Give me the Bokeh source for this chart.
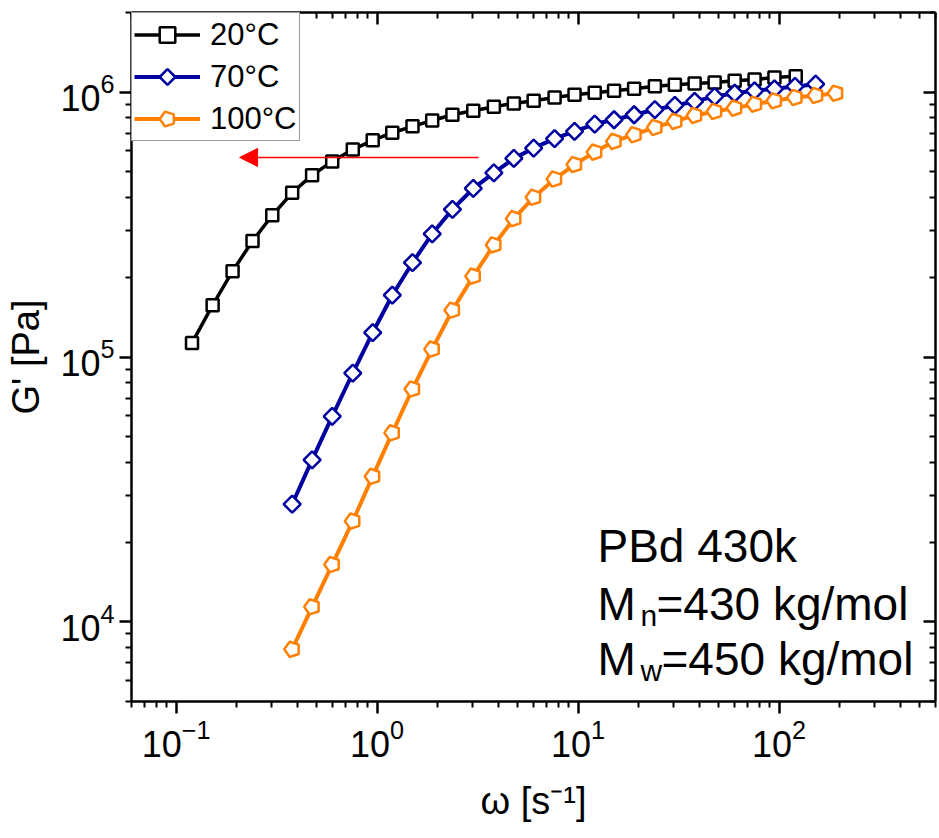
import math
from bokeh.plotting import figure
from bokeh.models import (LogAxis, FixedTicker, Legend, LegendItem, Arrow,
                          NormalHead, Label, Range1d, ColumnDataSource,
                          CustomJSTickFormatter)
from bokeh.embed import file_html
from bokeh.resources import INLINE

# ---- data ----
omega_20 = [0.120, 0.152, 0.191, 0.240, 0.301, 0.378, 0.475, 0.598, 0.757, 0.951,
            1.19, 1.50, 1.88, 2.37, 3.01, 3.81, 4.79, 6.01, 7.64, 9.60,
            12.1, 15.1, 19.0, 24.1, 30.3, 38.0, 47.8, 60.1, 75.5, 94.8, 121]
gp_20 = [1.13e5, 1.57e5, 2.11e5, 2.74e5, 3.43e5, 4.17e5, 4.86e5, 5.48e5, 6.07e5, 6.58e5,
         7.03e5, 7.43e5, 7.82e5, 8.22e5, 8.51e5, 8.81e5, 9.07e5, 9.28e5, 9.55e5, 9.78e5,
         9.95e5, 1.012e6, 1.030e6, 1.053e6, 1.066e6, 1.079e6, 1.088e6, 1.104e6, 1.116e6, 1.136e6, 1.149e6]

omega_70 = [0.378, 0.475, 0.598, 0.757, 0.951, 1.19, 1.50, 1.88, 2.37, 3.01,
            3.81, 4.79, 6.01, 7.64, 9.60, 12.1, 15.1, 19.0, 24.1, 30.3,
            38.0, 47.8, 60.1, 75.5, 94.8, 120, 152]
gp_70 = [2.78e4, 4.09e4, 5.97e4, 8.70e4, 1.237e5, 1.711e5, 2.27e5, 2.92e5, 3.61e5, 4.33e5,
         4.96e5, 5.62e5, 6.15e5, 6.68e5, 7.11e5, 7.58e5, 7.87e5, 8.22e5, 8.59e5, 8.91e5,
         9.23e5, 9.63e5, 9.91e5, 1.012e6, 1.030e6, 1.051e6, 1.072e6]

omega_100 = [0.378, 0.475, 0.598, 0.757, 0.951, 1.19, 1.50, 1.88, 2.37, 3.01,
             3.81, 4.79, 6.01, 7.64, 9.60, 12.1, 15.1, 19.0, 24.1, 30.3,
             38.0, 47.8, 60.1, 75.5, 94.8, 120, 152, 191]
gp_100 = [7.87e3, 1.139e4, 1.645e4, 2.40e4, 3.54e4, 5.17e4, 7.57e4, 1.071e5, 1.502e5, 2.02e5,
          2.65e5, 3.33e5, 4.01e5, 4.70e5, 5.33e5, 5.94e5, 6.52e5, 6.91e5, 7.36e5, 7.76e5,
          8.17e5, 8.46e5, 8.71e5, 9.01e5, 9.28e5, 9.55e5, 9.72e5, 9.91e5]

series_labels = ["20°C", "70°C", "100°C"]
x_major_ticks = [0.1, 1, 10, 100]
y_major_ticks = [1e4, 1e5, 1e6]
x_range = (0.06, 600)
y_range = (5e3, 2e6)
arrow_x = (3.2, 0.207)
arrow_y = 5.67e5

FONT = "Liberation Sans"
BLACK = "#000000"
BLUE = "#0000A0"
ORANGE = "#FF8000"

p = figure(width=939, height=838, x_axis_type="log", y_axis_type="log",
           x_range=Range1d(*x_range), y_range=Range1d(*y_range),
           output_backend="svg", toolbar_location=None,
           min_border_left=131, min_border_right=2, min_border_top=12,
           min_border_bottom=137)
p.grid.visible = False
p.outline_line_color = None
p.background_fill_color = "white"
p.border_fill_color = "white"

# extra mirrored axes
p.add_layout(LogAxis(), "above")
p.add_layout(LogAxis(), "right")

x_minor = [m * 10 ** e for e in range(-2, 3) for m in range(2, 10)
           if x_range[0] <= m * 10 ** e <= x_range[1]]
y_minor = [m * 10 ** e for e in range(3, 7) for m in range(2, 10)
           if y_range[0] <= m * 10 ** e <= y_range[1]]

for ax in p.xaxis:
    ax.ticker = FixedTicker(ticks=x_major_ticks, minor_ticks=x_minor)
for ax in p.yaxis:
    ax.ticker = FixedTicker(ticks=y_major_ticks, minor_ticks=y_minor)

for ax in p.axis:
    ax.axis_line_width = 2.5
    ax.axis_line_color = "black"
    ax.major_tick_line_width = 2.5
    ax.minor_tick_line_width = 2
    ax.major_tick_line_color = "black"
    ax.minor_tick_line_color = "black"
    ax.major_label_text_font = FONT
    ax.major_label_text_font_size = "36px"
    ax.major_label_text_color = "black"
    ax.axis_label_text_font = FONT
    ax.axis_label_text_font_style = "normal"
    ax.axis_label_text_font_size = "38px"
    ax.axis_label_text_color = "black"

# outer axes (left, bottom): ticks outwards
for ax in [p.below[0], p.left[0]]:
    ax.major_tick_in = 0
    ax.major_tick_out = 12
    ax.minor_tick_in = 0
    ax.minor_tick_out = 6
    ax.major_label_standoff = 5

# mirrored axes: ticks inwards, no labels
for ax in [p.above[0], p.right[0]]:
    ax.major_tick_in = 12
    ax.major_tick_out = 0
    ax.minor_tick_in = 6
    ax.minor_tick_out = 0
    ax.formatter = CustomJSTickFormatter(code="return ' '")
    ax.major_label_text_font_size = "2px"
    ax.major_label_standoff = 0

p.below[0].axis_label = "ω [s⁻¹]"
p.below[0].axis_label_standoff = 20
p.left[0].axis_label = "G' [Pa]"
p.left[0].axis_label_standoff = 10

# ---- series ----
src20 = ColumnDataSource(dict(x=omega_20, y=gp_20))
src70 = ColumnDataSource(dict(x=omega_70, y=gp_70))
src100 = ColumnDataSource(dict(x=omega_100, y=gp_100))

l20 = p.line("x", "y", source=src20, line_color=BLACK, line_width=3.5)
m20 = p.scatter("x", "y", source=src20, marker="square", size=12,
                line_color=BLACK, line_width=2.5, fill_color="white")

l70 = p.line("x", "y", source=src70, line_color=BLUE, line_width=4)
m70 = p.ngon("x", "y", source=src70, radius=8.5, radius_units="screen", n=4,
             angle=0, line_color=BLUE, line_width=2.5, fill_color="white")

l100 = p.line("x", "y", source=src100, line_color=ORANGE, line_width=4)
m100 = p.ngon("x", "y", source=src100, radius=8, radius_units="screen", n=5,
              angle=math.pi / 2,
              line_color=ORANGE, line_width=2.5, fill_color="white")

legend = Legend(items=[LegendItem(label=series_labels[0], renderers=[l20, m20]),
                       LegendItem(label=series_labels[1], renderers=[l70, m70]),
                       LegendItem(label=series_labels[2], renderers=[l100, m100])],
                location="top_left", margin=0, padding=2, spacing=3,
                glyph_width=66, glyph_height=39, label_standoff=10,
                label_text_font=FONT, label_text_font_size="31px",
                label_text_color="black",
                border_line_color="#333333", border_line_width=1,
                background_fill_alpha=1)
p.add_layout(legend)

# ---- red arrow ----
p.add_layout(Arrow(end=NormalHead(size=18, fill_color="red", line_color="red"),
                   x_start=arrow_x[0], y_start=arrow_y, x_end=arrow_x[1], y_end=arrow_y,
                   line_color="red", line_width=1.5))

# ---- annotation text ----
def add_label(text, sx, sy, size):
    p.add_layout(Label(x=sx, y=sy, x_units="screen", y_units="screen", text=text,
                       text_font=FONT, text_font_size=f"{size}px",
                       text_baseline="alphabetic", text_align="left",
                       text_color="black"))

add_label("PBd 430k", 466, 156, 46)
add_label("M", 466, 98, 46)
add_label("n", 509, 86, 30)
add_label("=430 kg/mol", 525, 98, 46)
add_label("M", 466, 43, 46)
add_label("w", 509, 31, 30)
add_label("=450 kg/mol", 530, 43, 46)

open("out.html", "w").write(file_html(p, INLINE))
